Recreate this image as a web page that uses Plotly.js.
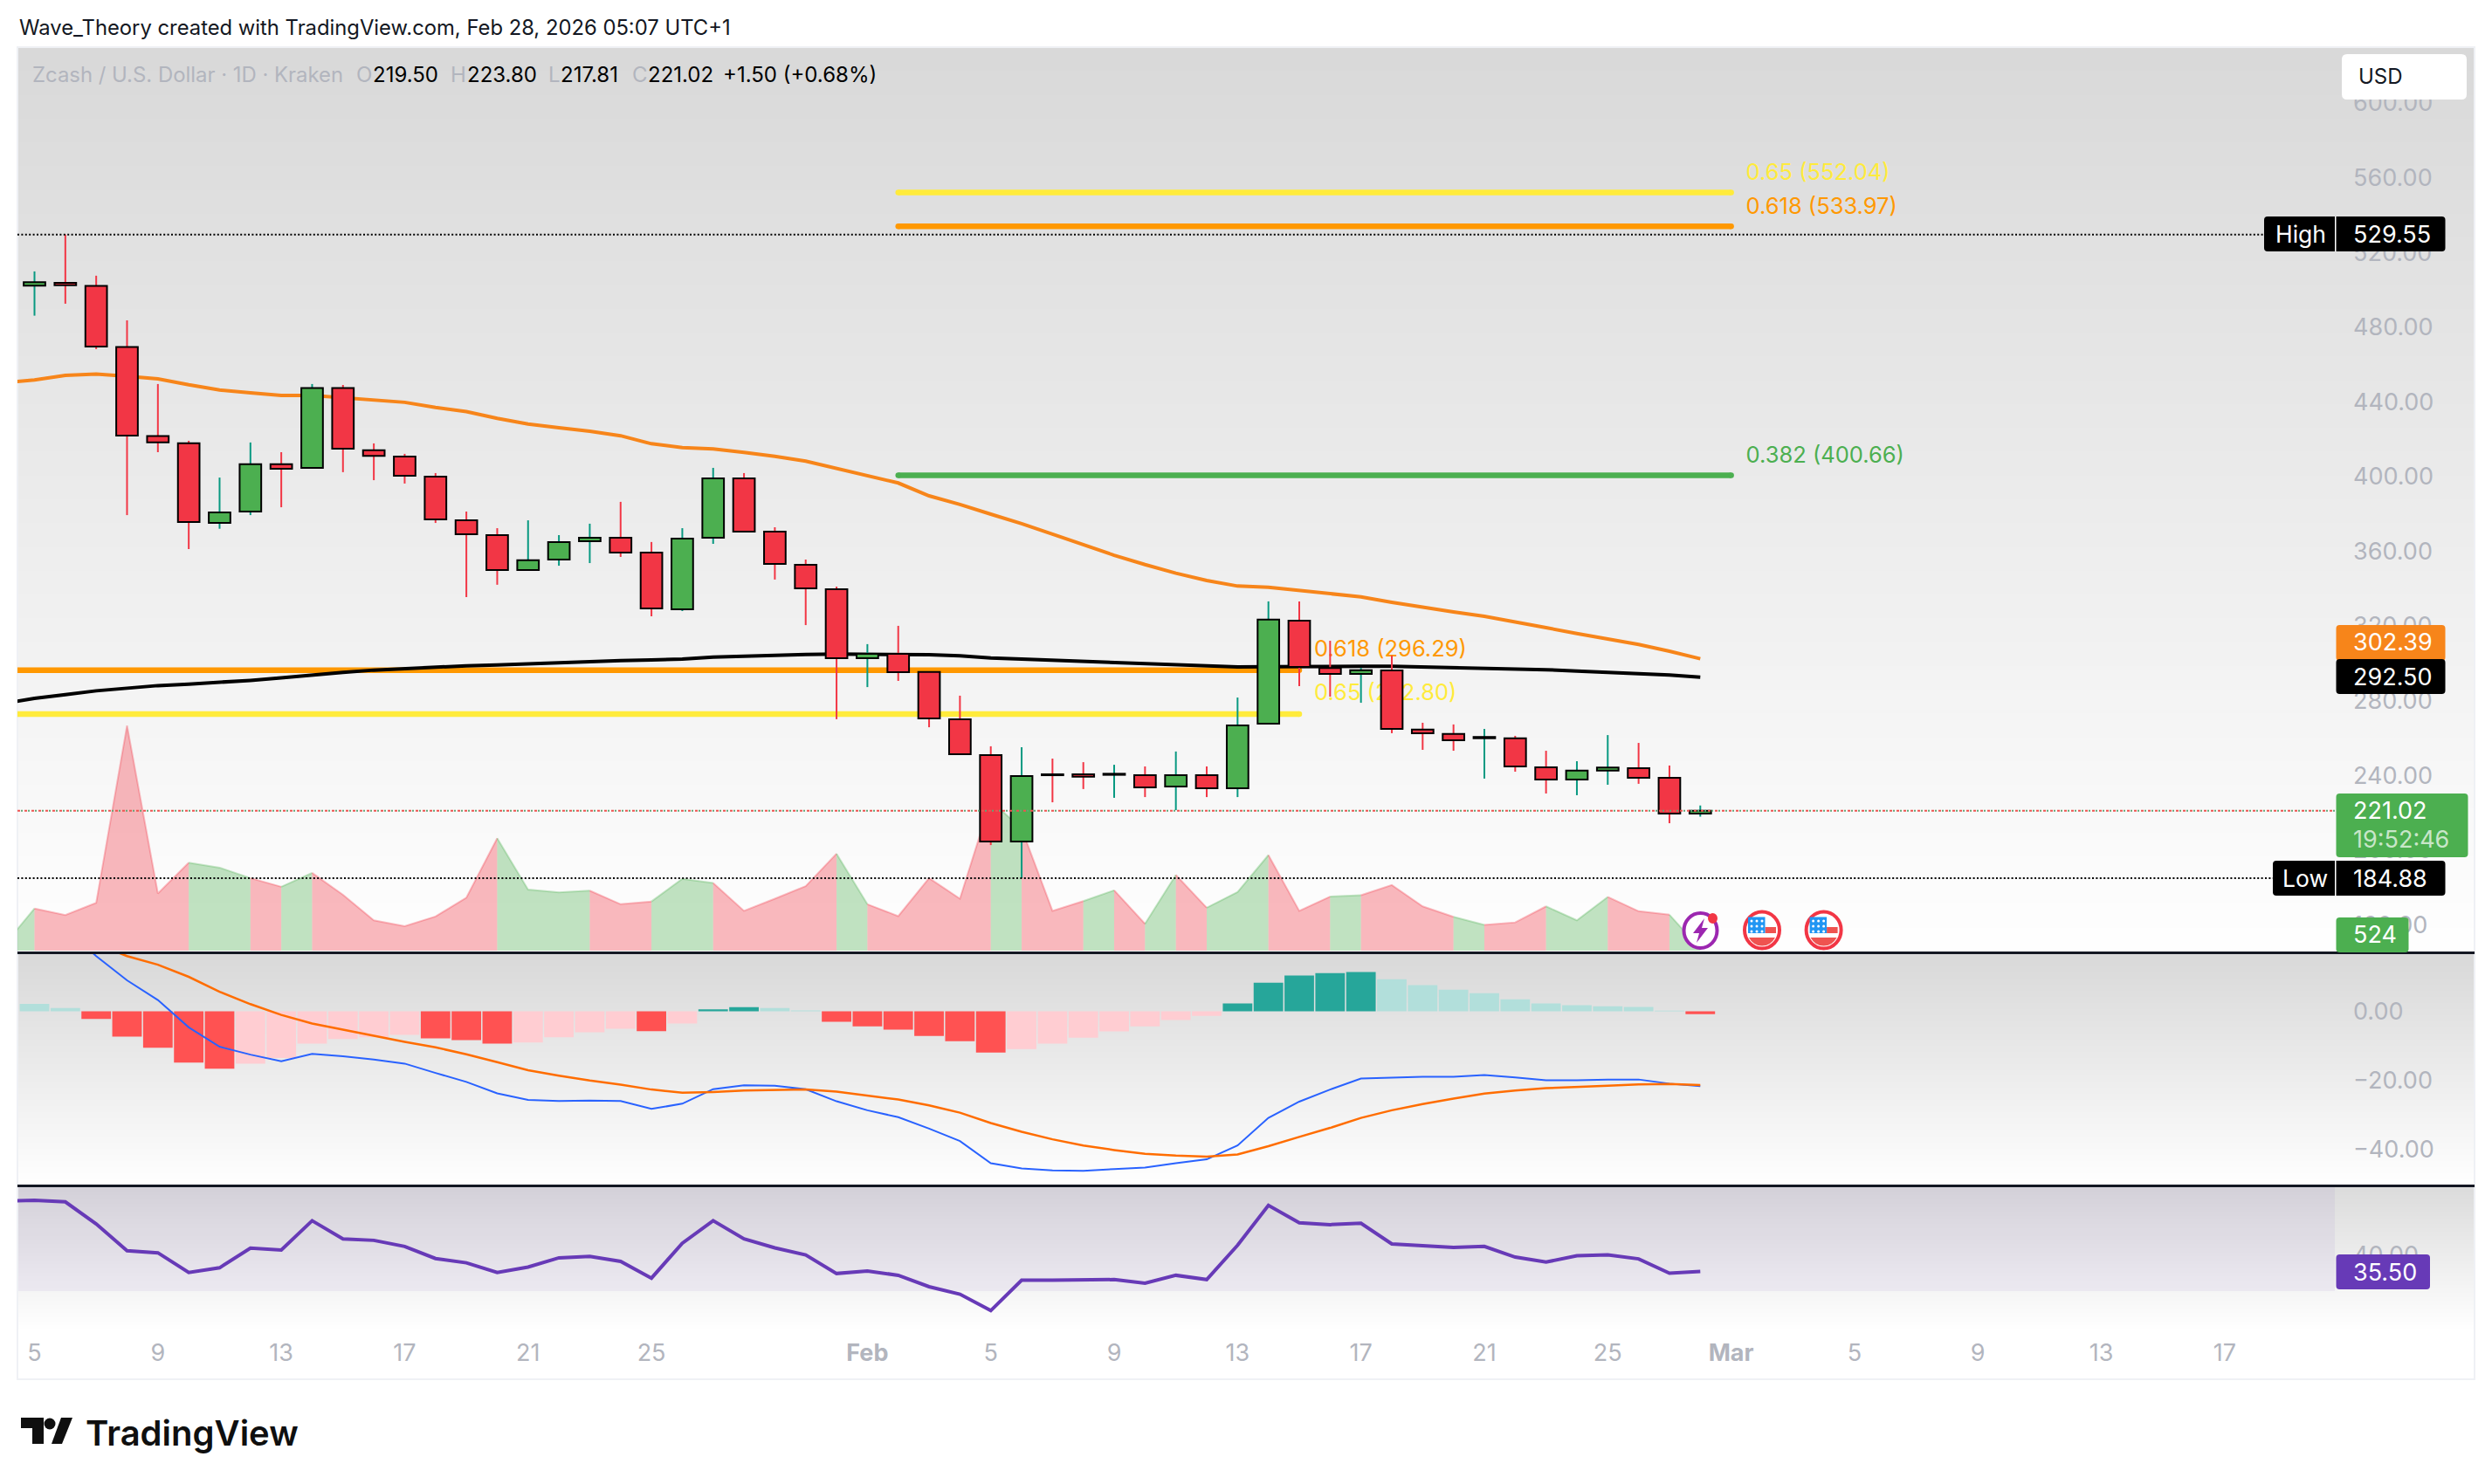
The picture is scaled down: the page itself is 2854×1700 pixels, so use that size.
<!DOCTYPE html>
<html><head><meta charset="utf-8">
<script src="https://cdn.plot.ly/plotly-3.0.1.min.js"></script>
<style>html,body{margin:0;padding:0;background:#fff}#chart{width:2854px;height:1700px}</style>
</head><body><div id="chart"></div>
<script>
const dates = ['2026-01-05','2026-01-06','2026-01-07','2026-01-08','2026-01-09','2026-01-10','2026-01-11','2026-01-12','2026-01-13','2026-01-14','2026-01-15','2026-01-16','2026-01-17','2026-01-18','2026-01-19','2026-01-20','2026-01-21','2026-01-22','2026-01-23','2026-01-24','2026-01-25','2026-01-26','2026-01-27','2026-01-28','2026-01-29','2026-01-30','2026-01-31','2026-02-01','2026-02-02','2026-02-03','2026-02-04','2026-02-05','2026-02-06','2026-02-07','2026-02-08','2026-02-09','2026-02-10','2026-02-11','2026-02-12','2026-02-13','2026-02-14','2026-02-15','2026-02-16','2026-02-17','2026-02-18','2026-02-19','2026-02-20','2026-02-21','2026-02-22','2026-02-23','2026-02-24','2026-02-25','2026-02-26','2026-02-27','2026-02-28'];
const lineDates = ['2026-01-04'].concat(dates);
const open = [502.2,503.7,502.0,469.3,421.6,417.8,375.1,381.2,406.6,404.6,447.3,414.1,410.7,399.9,376.5,368.6,349.9,355.5,365.3,367.2,359.2,328.8,367.2,399.0,370.5,352.7,339.6,302.7,305.0,295.3,270.0,250.8,204.5,240.5,240.5,240.2,240.0,233.9,240.0,233.0,267.6,322.8,297.4,294.3,296.1,264.5,262.1,259.8,259.8,244.2,237.7,242.5,243.8,238.6,219.50];
const high = [509.8,529.55,507.5,483.6,449.5,419.1,399.4,418.2,413.0,449.5,449.0,417.7,412.1,401.8,381.2,372.3,376.5,368.6,374.7,386.4,364.9,372.3,404.6,401.8,372.8,355.5,341.0,310.2,320.0,295.3,282.6,255.5,255.0,248.9,247.0,245.6,244.7,252.7,244.7,281.6,333.1,333.1,312.0,297.5,304.1,268.1,267.2,264.8,261.1,253.1,247.5,261.5,257.3,245.2,223.80];
const low = [486.1,492.5,468.2,379.3,413.0,361.1,372.0,379.3,383.5,404.6,402.3,398.0,396.2,375.1,335.4,342.0,349.9,352.2,353.6,356.9,325.1,327.9,363.9,370.5,344.8,320.4,270.0,287.2,290.5,265.7,251.3,202.6,184.88,225.5,232.6,227.9,228.3,221.3,228.3,228.3,267.6,287.7,282.1,278.8,262.5,253.6,253.1,238.2,241.9,230.2,229.3,234.9,235.4,214.3,217.81];
const close = [504.0,502.4,469.6,421.9,418.2,375.6,380.7,406.6,404.1,447.3,414.9,411.0,400.4,377.0,369.1,349.9,355.2,364.9,367.2,359.2,329.3,366.7,399.0,370.5,353.2,340.1,302.7,305.0,295.2,270.4,251.3,204.5,239.6,240.0,239.2,240.8,233.5,240.0,233.0,266.7,323.3,298.0,294.3,296.3,264.8,262.5,258.7,260.5,244.7,237.7,242.5,244.1,238.6,219.5,221.02];
const volume = [1.4,12.1,10.2,13.7,64.5,16.4,25.2,23.8,20.8,18.3,22.3,16.0,8.7,7.0,9.8,15.2,32.2,17.5,16.7,17.2,13.3,14.1,20.6,19.4,11.4,14.9,18.5,27.8,13.3,9.9,20.8,14.9,43,35,11.4,14.2,17.3,7.7,21.7,12.3,16.8,27.4,11.4,15.5,15.9,18.8,12.7,9.7,7.4,8.1,12.7,8.7,15.4,11.3,10.3,0.524];
const emaOrange = [450.2,451.7,454.1,454.8,453.7,452.3,449.1,446.3,444.8,443.4,443.4,442.3,441.2,439.7,437.0,434.7,431.1,428.1,426.1,424.2,421.8,417.5,415.5,414.7,412.9,410.8,408.2,404.3,400.4,396.5,389.6,385.0,379.8,374.7,369.1,363.4,357.8,352.8,348.2,344.3,341.3,340.7,339.1,337.3,335.5,332.6,329.9,327.4,325.1,322.2,319.0,315.9,313.1,310.0,306.4,302.39];
const emaBlack = [278.4,281.2,283.2,285.2,286.6,288.0,288.8,289.7,290.8,292.1,293.7,295.1,296.3,297.1,298.0,298.6,299.1,299.7,300.3,301.0,301.4,301.7,302.2,303.3,303.9,304.4,304.7,304.9,304.9,304.5,304.5,303.9,302.8,302.2,301.6,301.0,300.3,299.7,299.1,298.3,298.0,298.1,298.3,298.3,298.3,298.3,297.9,297.7,297.5,297.1,296.5,295.8,295.2,294.4,293.7,292.50];
const macdLine = [34,30,24,16,9.0,3.3,-4.6,-10.2,-12.5,-14.4,-12.3,-13.0,-13.9,-15.1,-17.8,-20.4,-23.7,-25.6,-25.9,-25.8,-25.9,-28.2,-26.7,-22.5,-21.4,-21.5,-22.5,-26.0,-28.6,-30.6,-33.9,-37.5,-43.9,-45.4,-46.0,-46.1,-45.6,-45.2,-43.9,-42.8,-38.8,-30.8,-26.1,-22.6,-19.4,-19.1,-18.9,-18.9,-18.4,-19.1,-19.9,-19.9,-19.7,-19.7,-20.9,-21.6];
const macdSignal = [26,24.5,22.5,19.5,16.0,13.5,10.0,5.7,2.1,-1.0,-3.5,-5.3,-7.0,-8.8,-10.4,-12.4,-14.7,-17.0,-18.6,-20.0,-21.2,-22.6,-23.5,-23.3,-22.9,-22.7,-22.6,-23.2,-24.4,-25.5,-27.2,-29.3,-32.3,-34.8,-37.0,-38.8,-40.1,-41.2,-41.7,-42.0,-41.4,-39.0,-36.3,-33.7,-30.8,-28.6,-26.8,-25.2,-23.8,-22.9,-22.2,-21.9,-21.5,-21.1,-21.0,-21.3];
const macdHist = [2.2,1.0,-2.2,-7.3,-10.5,-14.8,-16.6,-15.1,-13.5,-9.3,-8.0,-7.5,-6.8,-7.8,-8.3,-9.3,-9.0,-7.5,-6.0,-5.0,-5.7,-3.5,0.6,1.2,1.0,0.3,-3.0,-4.3,-5.3,-7.1,-8.6,-11.9,-10.9,-9.3,-7.6,-5.8,-4.3,-2.5,-1.3,2.3,8.3,10.4,11.1,11.4,9.3,7.6,6.3,5.3,3.5,2.3,1.8,1.5,1.3,0.25,-0.76];
const rsi = [55.2,55.4,55.0,48.8,41.3,40.7,35.2,36.5,42.0,41.5,49.7,44.6,44.2,42.5,39.1,37.9,35.2,36.7,39.3,39.7,38.3,33.6,43.4,49.7,44.6,42.1,40.1,34.9,35.6,34.4,31.2,29.1,24.5,33.0,33.0,33.0,33.2,32.2,34.4,33.2,42.8,54.0,49.1,48.6,49.0,43.2,42.8,42.2,42.5,39.5,38.1,39.9,40.1,39.0,35.0,35.50];
const fibRatios = ['0.65','0.618','0.382'];
const fibUpper = [552.04,533.97,400.66];
const fibLowerRatios = ['0.618','0.65'];
const fibLower = [296.29,272.80];
const priceTicks = [600,560,520,480,440,400,360,320,280,240,200,160];
const macdTicks = [0,-20,-40];
const rsiTicks = [40];
const xTickVals = ['2026-01-05','2026-01-09','2026-01-13','2026-01-17','2026-01-21','2026-01-25','2026-02-01','2026-02-05','2026-02-09','2026-02-13','2026-02-17','2026-02-21','2026-02-25','2026-03-01','2026-03-05','2026-03-09','2026-03-13','2026-03-17'];
const xTickText = ['5','9','13','17','21','25','<b>Feb</b>','5','9','13','17','21','25','<b>Mar</b>','5','9','13','17'];
const lastPrice = 221.02, highPrice = 529.55, lowPrice = 184.88, lastVolume = '524', countdown = '19:52:46';

const W=2854,H=1700,FONT='Inter, Roboto, sans-serif';
const RED='#f23645',GREEN='#4caf50',TEAL='#089981',MUTED='#b2b5be';
const px=x=>x/W, py=y=>1-y/H;
const DAY=864e5;
const offs=(s,d)=>new Date(Date.parse(s+'T00:00:00Z')+d*DAY).toISOString();
const up=close.map((c,i)=>c>=open[i]);

/* ---------- traces ---------- */
const traces=[];
// volume: one filled run per colour, on the base subplot
let runStart=0;
for(let i=1;i<=dates.length;i++){
  if(i===dates.length||up[i]!==up[runStart]){
    const g=up[runStart];
    traces.push({type:'scatter',mode:'lines',x:lineDates.slice(runStart,i+1),y:volume.slice(runStart,i+1),
      xaxis:'x',yaxis:'y',fill:'tozeroy',fillcolor:g?'rgba(76,175,80,0.35)':'rgba(242,54,69,0.35)',
      line:{color:g?'rgba(76,175,80,0.3)':'rgba(242,54,69,0.3)',width:2},hoverinfo:'skip',showlegend:false});
    runStart=i;
  }
}
// fib levels (under candles)
const fibCol={'0.65':'#ffeb3b','0.618':'#ff9800','0.382':'#4caf50'};
fibRatios.forEach((r,i)=>traces.push({type:'scatter',mode:'lines+markers',x:['2026-02-02','2026-03-01'],y:[fibUpper[i],fibUpper[i]],
  xaxis:'x',yaxis:'y2',line:{color:fibCol[r],width:6.5},marker:{color:fibCol[r],size:6.5},hoverinfo:'skip',showlegend:false}));
fibLowerRatios.forEach((r,i)=>traces.push({type:'scatter',mode:'lines+markers',x:['2026-01-01','2026-02-15'],y:[fibLower[i],fibLower[i]],
  xaxis:'x',yaxis:'y2',line:{color:fibCol[r],width:6.5},marker:{color:fibCol[r],size:6.5},hoverinfo:'skip',showlegend:false}));
traces.push({type:'scatter',mode:'lines',x:lineDates,y:emaOrange,xaxis:'x',yaxis:'y2',line:{color:'#f7851a',width:4},hoverinfo:'skip',showlegend:false});
traces.push({type:'scatter',mode:'lines',x:lineDates,y:emaBlack,xaxis:'x',yaxis:'y2',line:{color:'#000000',width:4},hoverinfo:'skip',showlegend:false});
// fib labels
const labX=[],labY=[],labT=[],labC=[];
fibRatios.forEach((r,i)=>{labX.push(offs('2026-03-01',0.48));labY.push(fibUpper[i]+9.6);labT.push(r+' ('+fibUpper[i].toFixed(2)+')');labC.push(fibCol[r]);});
fibLowerRatios.forEach((r,i)=>{labX.push(offs('2026-02-15',0.48));labY.push(fibLower[i]+10.3);labT.push(r+' ('+fibLower[i].toFixed(2)+')');labC.push(fibCol[r]);});
traces.push({type:'scatter',mode:'text',x:labX,y:labY,text:labT,textposition:'middle right',textfont:{family:FONT,size:25.5,color:labC},
  xaxis:'x',yaxis:'y2',cliponaxis:false,hoverinfo:'skip',showlegend:false});
// wicks then bodies, on the top overlay
traces.push({type:'bar',x:dates,base:low,y:high.map((h,i)=>h-low[i]),width:dates.map(()=>0.0566*DAY),
  marker:{color:up.map(u=>u?TEAL:RED),line:{width:0}},xaxis:'x',yaxis:'y3',hoverinfo:'skip',showlegend:false});
traces.push({type:'bar',x:dates,base:open.map((o,i)=>Math.min(o,close[i])),y:open.map((o,i)=>Math.abs(o-close[i])),width:dates.map(()=>0.70*DAY),
  marker:{color:up.map(u=>u?GREEN:RED),line:{color:'#000000',width:2}},xaxis:'x',yaxis:'y3',hoverinfo:'skip',showlegend:false});
// MACD
const histCol=macdHist.map((v,i)=>{const p=macdHist[i-1];
  if(v>=0) return (p!==undefined&&v>p)?'#26a69a':'#b2dfdb';
  return (p!==undefined&&v<p)?'#ff5252':'#ffcdd2';});
traces.push({type:'bar',x:dates,y:macdHist,width:dates.map(()=>0.957*DAY),marker:{color:histCol,line:{width:0}},xaxis:'x',yaxis:'y4',hoverinfo:'skip',showlegend:false});
traces.push({type:'scatter',mode:'lines',x:lineDates,y:macdLine,xaxis:'x',yaxis:'y4',line:{color:'#2962ff',width:2},hoverinfo:'skip',showlegend:false});
traces.push({type:'scatter',mode:'lines',x:lineDates,y:macdSignal,xaxis:'x',yaxis:'y4',line:{color:'#ff6d00',width:2.5},hoverinfo:'skip',showlegend:false});
// RSI
traces.push({type:'scatter',mode:'lines',x:lineDates,y:rsi,xaxis:'x',yaxis:'y5',line:{color:'#673ab7',width:4},hoverinfo:'skip',showlegend:false});

/* ---------- background & decorations ---------- */
const shapes=[];
const rect=(x0,y0,x1,y1,fill,layer)=>({type:'rect',xref:'paper',yref:'paper',x0:px(x0),x1:px(x1),y0:py(y0),y1:py(y1),fillcolor:fill,line:{width:0},layer:layer||'below'});
function gradient(y0,y1,c0,c1){
  const n=c1-c0;
  for(let k=0;k<n;k++){
    const a=Math.round(y0+(y1-y0)*k/n), b=Math.round(y0+(y1-y0)*(k+1)/n), c=c0+k;
    shapes.push(rect(20,a,2834,b,`rgb(${c},${c},${c})`));
  }
}
gradient(54,1090,217,255);
gradient(1093,1358,217,255);
gradient(1360,1523,220,255);
shapes.push(rect(20,1360,2674,1479,'rgba(126,87,194,0.08)'));
shapes.push({type:'rect',xref:'paper',yref:'paper',x0:px(20),x1:px(2834),y0:py(54),y1:py(1580),fillcolor:'rgba(0,0,0,0)',line:{color:'#eff1f5',width:2},layer:'below'});
shapes.push(rect(20,1090,2834,1093,'#131722','above'));
shapes.push(rect(20,1357,2834,1360,'#131722','above'));
// price lines
const hline=(x0,x1,v,color,dash)=>({type:'line',xref:'paper',yref:'y2',x0:px(x0),x1:px(x1),y0:v,y1:v,line:{color,width:2,dash},layer:'above'});
shapes.push(hline(20,2593,highPrice,'#000000','2px,2.4px'));
shapes.push(hline(20,2603,lowPrice,'#000000','2px,2.4px'));
shapes.push(hline(20,2676,lastPrice,'#ef5350','3px,5px'));
shapes.push(hline(20,2676,lastPrice,'#5fa777','0px,4px,2px,2px'));
// rounded boxes
function rr(x0,y0,x1,y1,r,fill){
  const X=px,Y=py;
  const d=`M${X(x0+r)},${Y(y0)}L${X(x1-r)},${Y(y0)}Q${X(x1)},${Y(y0)} ${X(x1)},${Y(y0+r)}L${X(x1)},${Y(y1-r)}Q${X(x1)},${Y(y1)} ${X(x1-r)},${Y(y1)}L${X(x0+r)},${Y(y1)}Q${X(x0)},${Y(y1)} ${X(x0)},${Y(y1-r)}L${X(x0)},${Y(y0+r)}Q${X(x0)},${Y(y0)} ${X(x0+r)},${Y(y0)}Z`;
  return {type:'path',xref:'paper',yref:'paper',path:d,fillcolor:fill,line:{width:0},layer:'above'};
}
shapes.push(rr(2682,62,2825,114,6,'#ffffff'));
shapes.push(rr(2593,248,2800.5,288,4,'#000000'));
shapes.push(rect(2674,248,2675.5,288,'#ffffff','above'));
shapes.push(rr(2603,986,2800.5,1026,4,'#000000'));
shapes.push(rect(2674,986,2675.5,1026,'#ffffff','above'));
shapes.push(rr(2675.5,716,2800.5,757,4,'#f7851a'));
shapes.push(rr(2675.5,755,2800.5,795,4,'#000000'));
shapes.push(rr(2675.5,909,2826.5,982,4,'#4caf50'));
shapes.push(rr(2675.5,1051,2758.5,1091,4,'#4caf50'));
shapes.push(rr(2675.5,1437,2783,1477,4,'#673ab7'));
// icons
const circ=(cx,cy,rx,ry,fill,lc,lw)=>({type:'circle',xref:'paper',yref:'paper',x0:px(cx-rx),x1:px(cx+rx),y0:py(cy+ry),y1:py(cy-ry),fillcolor:fill,line:{color:lc||fill,width:lw||0},layer:'above'});
const poly=(pts,fill)=>({type:'path',xref:'paper',yref:'paper',path:'M'+pts.map(p=>px(p[0])+','+py(p[1])).join('L')+'Z',fillcolor:fill,line:{width:0},layer:'above'});
shapes.push(circ(1947.5,1066,19,20,'#ffffff','#9c27b0',4));
shapes.push(poly([[1952,1052],[1939,1069],[1946,1069],[1943,1080],[1956,1063],[1949,1063]],'#9c27b0'));
shapes.push(circ(1961.5,1052,5.5,6,'#f23645'));
[2018,2088.6].forEach(cx=>{
  const cy=1065.5;
  shapes.push(circ(cx,cy,20,21,'#ffffff','#f23645',4));
  shapes.push(poly([[cx+3.5,cy-3.5],[cx+16,cy-3.5],[cx+16,cy+3.5],[cx+3.5,cy+3.5]],'#ef5350'));
  shapes.push(poly([[cx-16,cy-15],[cx+3.5,cy-15],[cx+3.5,cy+3.5],[cx-16,cy+3.5]],'#2196f3'));
  shapes.push({type:'path',xref:'paper',yref:'paper',layer:'above',fillcolor:'#ef5350',line:{width:0},
    path:`M${px(cx-15)},${py(cy+8.5)}L${px(cx+15)},${py(cy+8.5)}Q${px(cx+10)},${py(cy+18)} ${px(cx)},${py(cy+18)}Q${px(cx-10)},${py(cy+18)} ${px(cx-15)},${py(cy+8.5)}Z`});
  for(let a=0;a<3;a++)for(let b=0;b<3;b++) shapes.push(circ(cx-12+a*6,cy-10.5+b*6,1.5,1.5,'#ffffff'));
});
// TradingView mark
shapes.push(poly([[24,1624],[50,1624],[50,1654],[37,1654],[37,1636],[24,1636]],'#0f0f0f'));
shapes.push(circ(57,1631,6.5,6.5,'#0f0f0f'));
shapes.push(poly([[83,1624],[71,1654],[59,1654],[70,1624]],'#0f0f0f'));

/* ---------- text ---------- */
const note=(x,y,text,size,color,extra)=>Object.assign({xref:'paper',yref:'paper',x:px(x),y:py(y),text,showarrow:false,xanchor:'left',yanchor:'middle',borderpad:0,font:{family:FONT,size,color}},extra||{});
const anns=[
  note(21,31.5,'Wave_Theory created with TradingView.com, Feb 28, 2026 05:07 UTC+1',23.8,'#131722'),
  note(36,86,'Zcash / U.S. Dollar · 1D · Kraken',23.9,MUTED),
  note(407,86,'O',24,MUTED), note(426,86,open[54].toFixed(2),24,'#000000'),
  note(515,86,'H',24,MUTED), note(534,86,high[54].toFixed(2),24,'#000000'),
  note(627,86,'L',24,MUTED), note(641,86,low[54].toFixed(2),24,'#000000'),
  note(723,86,'C',24,MUTED), note(741,86,close[54].toFixed(2),24,'#000000'),
  note(827,86,'+1.50 (+0.68%)',24,'#000000'),
  note(2700,87.5,'USD',24,'#131722'),
  note(2604.5,267.5,'High',26.5,'#ffffff'), note(2694,268,highPrice.toFixed(2),27,'#ffffff'),
  note(2613,1006,'Low',26.5,'#ffffff'), note(2694,1006,lowPrice.toFixed(2),27,'#ffffff'),
  note(2694,736,emaOrange[55].toFixed(2),27,'#ffffff'),
  note(2694,775.5,emaBlack[55].toFixed(2),27,'#ffffff'),
  note(2694,928,lastPrice.toFixed(2),27,'#ffffff'),
  note(2694,961.5,countdown,27,'#c8e6c9'),
  note(2694,1070.5,lastVolume,27,'#ffffff'),
  note(2694,1457,rsi[55].toFixed(2),27,'#ffffff'),
  note(97,1641,'TradingView',40,'#0f0f0f',{font:{family:FONT,size:40,color:'#0f0f0f',weight:600}})
];

/* ---------- axes ---------- */
const dom=(a,b)=>[1-b/H,1-a/H];
const yBase={domain:dom(54,1090),showgrid:false,zeroline:false,showline:false,showticklabels:false,ticks:'',fixedrange:true};
const yTick=(vals)=>({side:'right',anchor:'x',tickmode:'array',tickvals:vals,tickformat:'.2f',ticks:'',ticklabelstandoff:20,
  tickfont:{family:FONT,size:27,color:MUTED},showgrid:false,zeroline:false,showline:false,fixedrange:true});
const priceRange=[145.6,629.9];
const layout={
  width:W,height:H,margin:{l:0,r:0,t:0,b:0,pad:0},paper_bgcolor:'#ffffff',plot_bgcolor:'rgba(0,0,0,0)',
  showlegend:false,barmode:'overlay',font:{family:FONT},
  xaxis:{type:'date',domain:[px(20),px(2674)],range:[offs('2026-01-05',-0.552),offs('2026-01-05',74.57)],
    anchor:'free',position:1-1531/H,tickmode:'array',tickvals:xTickVals,ticktext:xTickText,ticks:'',
    tickfont:{family:FONT,size:27,color:MUTED},showgrid:false,zeroline:false,showline:false,fixedrange:true},
  yaxis:Object.assign({},yBase,{range:[-0.25,259]}),
  yaxis2:Object.assign(yTick(priceTicks),{domain:dom(54,1090),range:priceRange,overlaying:'y'}),
  yaxis3:Object.assign({},yBase,{range:priceRange,overlaying:'y'}),
  yaxis4:Object.assign(yTick(macdTicks),{domain:dom(1093,1358),range:[-50.35,16.57]}),
  yaxis5:Object.assign(yTick(rsiTicks),{domain:dom(1360,1523),range:[19.2,59.1]}),
  shapes,annotations:anns
};
Plotly.newPlot('chart',traces,layout,{displayModeBar:false,staticPlot:true});
</script></body></html>
